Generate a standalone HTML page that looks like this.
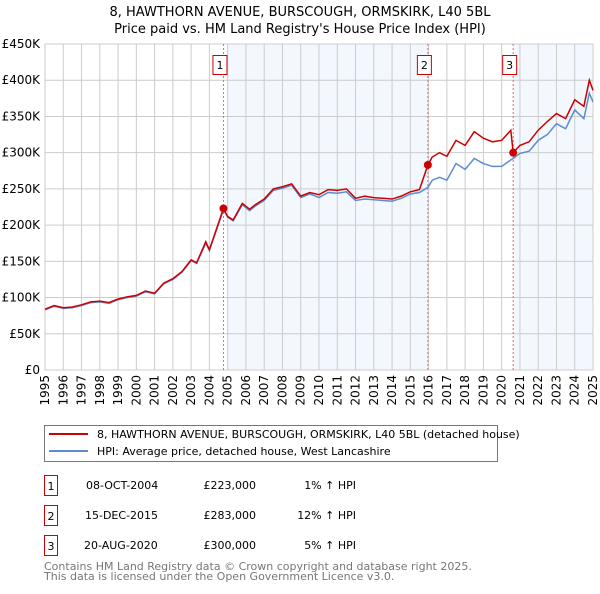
<!DOCTYPE html>
<html><head><meta charset="utf-8"><style>
body{margin:0;background:#fff;font-family:"DejaVu Sans","Liberation Sans",sans-serif}
svg text{font-family:"DejaVu Sans","Liberation Sans",sans-serif}
</style></head><body>
<svg id="c" width="600" height="590" xmlns="http://www.w3.org/2000/svg">
<text x="300" y="16" text-anchor="middle" font-size="13">8, HAWTHORN AVENUE, BURSCOUGH, ORMSKIRK, L40 5BL</text>
<text x="300" y="33" text-anchor="middle" font-size="13">Price paid vs. HM Land Registry's House Price Index (HPI)</text>
<g id="plot"></g>
<g>
<rect x="44.5" y="425.5" width="453" height="36" fill="#fff" stroke="#777"/>
<line x1="49" y1="434" x2="88" y2="434" stroke="#cc0000" stroke-width="2"/>
<text x="97" y="438" font-size="11">8, HAWTHORN AVENUE, BURSCOUGH, ORMSKIRK, L40 5BL (detached house)</text>
<line x1="49" y1="451" x2="88" y2="451" stroke="#5b8dd0" stroke-width="2"/>
<text x="97" y="455" font-size="11">HPI: Average price, detached house, West Lancashire</text>
</g>
<g font-size="11">
<rect x="44.5" y="475.5" width="13" height="20" fill="none" stroke="#cc0000"/><text x="51" y="490" text-anchor="middle">1</text>
<text x="86" y="489">08-OCT-2004</text><text x="256" y="489" text-anchor="end">£223,000</text><text x="356" y="489" text-anchor="end">1% ↑ HPI</text>
<rect x="44.5" y="505.5" width="13" height="20" fill="none" stroke="#cc0000"/><text x="51" y="520" text-anchor="middle">2</text>
<text x="85" y="519">15-DEC-2015</text><text x="256" y="519" text-anchor="end">£283,000</text><text x="356" y="519" text-anchor="end">12% ↑ HPI</text>
<rect x="44.5" y="535.5" width="13" height="20" fill="none" stroke="#cc0000"/><text x="51" y="550" text-anchor="middle">3</text>
<text x="84" y="549">20-AUG-2020</text><text x="256" y="549" text-anchor="end">£300,000</text><text x="356" y="549" text-anchor="end">5% ↑ HPI</text>
</g>
<text x="44" y="570" font-size="11" fill="#777">Contains HM Land Registry data © Crown copyright and database right 2025.</text>
<text x="44" y="580" font-size="11" fill="#777">This data is licensed under the Open Government Licence v3.0.</text>
</svg>
<script>
const years=[1995,1995.5,1996,1996.5,1997,1997.5,1998,1998.5,1999,1999.5,2000,2000.5,2001,2001.5,2002,2002.5,2003,2003.3,2003.8,2004,2004.77,2005,2005.3,2005.8,2006.2,2006.5,2007,2007.5,2008,2008.5,2009,2009.5,2010,2010.5,2011,2011.5,2012,2012.5,2013,2013.5,2014,2014.5,2015,2015.5,2015.96,2016.2,2016.6,2017,2017.5,2018,2018.5,2019,2019.5,2020,2020.5,2020.63,2021,2021.5,2022,2022.5,2023,2023.5,2024,2024.5,2024.8,2025];
const hpi=[83,88,85,86,89,93,94,92,97,100,102,108,105,119,125,135,151,147,175,165,221,211,206,228,220,226,234,248,251,255,238,243,238,245,244,246,234,236,235,234,233,237,243,245,252,262,266,262,285,277,292,285,281,281,290,292,299,302,317,325,340,333,359,347,382,370];
const paid=[84,89,86,87,90,94,95,93,98,101,103,109,106,120,126,136,152,148,177,166,223,212,207,230,222,228,236,250,253,257,240,245,242,249,248,250,237,240,238,237,236,240,246,249,283,294,300,295,317,310,329,320,315,317,331,300,310,315,331,343,354,347,373,364,400,386];
const saleYears=[2004.77,2015.96,2020.63];
const saleValues=[223,283,300];
const saleLabels=["1","2","3"];
const yTicks=[0,50,100,150,200,250,300,350,400,450];
const yTickLabels=["£0","£50K","£100K","£150K","£200K","£250K","£300K","£350K","£400K","£450K"];
const xTicks=[1995,1996,1997,1998,1999,2000,2001,2002,2003,2004,2005,2006,2007,2008,2009,2010,2011,2012,2013,2014,2015,2016,2017,2018,2019,2020,2021,2022,2023,2024,2025];
const X0=45,X1=593,Y0=370,Y1=44;
const xs=y=>X0+(y-1995)/30*(X1-X0);
const ys=v=>Y0-v/450*(Y0-Y1);
const NS="http://www.w3.org/2000/svg";
const g=document.getElementById('plot');
function mk(t,a){const e=document.createElementNS(NS,t);for(const k in a)e.setAttribute(k,a[k]);g.appendChild(e);return e;}
const shadeStarts=[2005,2020.63],shadeEnds=[2015.96,2025];
for(let i=0;i<shadeStarts.length;i++){const r=mk('rect',{x:xs(shadeStarts[i]),y:Y1,width:xs(shadeEnds[i])-xs(shadeStarts[i]),height:Y0-Y1,fill:'#eef3fd',opacity:0.7});

}
yTicks.forEach((v,i)=>{const l=mk('line',{x1:X0,x2:X1,y1:ys(v),y2:ys(v),stroke:'#ccc'});


const t=mk('text',{x:40,y:ys(v)+4,'text-anchor':'end','font-size':12});t.textContent=yTickLabels[i];

});
xTicks.forEach(y=>{const l=mk('line',{x1:xs(y),x2:xs(y),y1:Y1,y2:Y0,stroke:'#ccc'});


const t=mk('text',{transform:`translate(${xs(y)+4},${Y0+5}) rotate(-90)`,'text-anchor':'end','font-size':12});t.textContent=y;

});
const frame=mk('rect',{x:X0,y:Y1,width:X1-X0,height:Y0-Y1,fill:'none',stroke:'#ccc'});


saleYears.forEach((y,i)=>{const l=mk('line',{x1:xs(y),x2:xs(y),y1:Y1,y2:Y0,stroke:'#e66','stroke-dasharray':'2,2'});


const b=mk('rect',{x:xs(y)-10.5,y:55.5,width:14,height:19,fill:'#fff',stroke:'#cc0000'});


const t=mk('text',{x:xs(y)-3.5,y:69,'text-anchor':'middle','font-size':11});t.textContent=saleLabels[i];

});
const hp=mk('polyline',{points:years.map((y,i)=>xs(y)+','+ys(hpi[i])).join(' '),fill:'none',stroke:'#5b8dd0','stroke-width':1.5});


const pp=mk('polyline',{points:years.map((y,i)=>xs(y)+','+ys(paid[i])).join(' '),fill:'none',stroke:'#cc0000','stroke-width':1.5});


saleYears.forEach((y,i)=>{const c=mk('circle',{cx:xs(y),cy:ys(saleValues[i]),r:4,fill:'#cc0000'});

});
</script>
</body></html>
